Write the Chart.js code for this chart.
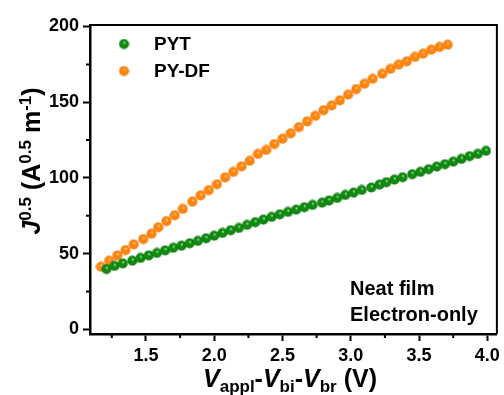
<!DOCTYPE html>
<html><head><meta charset="utf-8">
<script src="https://cdn.jsdelivr.net/npm/chart.js@4"></script>
<style>html,body{margin:0;padding:0;background:#fff}#wrap{width:504px;height:395px}</style>
</head><body><div id="wrap"><canvas id="c" width="504" height="395"></canvas></div>
<script>
const seriesNames = ['PYT', 'PY-DF'];
const pytV = [1.21,1.27,1.33,1.40,1.46,1.52,1.58,1.64,1.70,1.76,1.82,1.88,1.94,2.00,2.06,2.12,2.18,2.24,2.30,2.36,2.42,2.48,2.54,2.60,2.66,2.72,2.79,2.84,2.90,2.96,3.02,3.08,3.15,3.21,3.26,3.32,3.38,3.45,3.51,3.57,3.63,3.69,3.75,3.81,3.87,3.93,3.99];
const pytJ = [39.9,41.9,43.6,45.4,47.2,48.9,50.5,52.2,53.9,55.3,56.9,58.4,60.2,61.9,63.7,65.5,67.0,69.0,70.8,72.5,74.3,76.0,77.6,79.1,80.7,82.2,83.7,85.1,86.8,88.8,90.3,92.1,93.7,95.6,97.2,98.9,100.5,102.5,104.0,105.8,107.5,109.1,110.8,112.6,114.4,115.9,117.9];
const pydfV = [1.17,1.23,1.29,1.35,1.41,1.48,1.54,1.59,1.65,1.71,1.77,1.84,1.90,1.96,2.02,2.08,2.14,2.20,2.26,2.32,2.38,2.44,2.50,2.56,2.62,2.68,2.74,2.80,2.86,2.92,2.98,3.04,3.10,3.16,3.23,3.29,3.35,3.41,3.47,3.53,3.59,3.65,3.71];
const pydfJ = [41.4,45.4,48.9,52.4,56.2,59.7,63.2,67.5,71.6,75.4,79.6,84.4,88.5,92.0,95.9,100.4,104.0,107.7,111.3,115.9,118.5,122.4,125.9,129.5,133.6,137.3,141.0,144.8,147.9,151.2,155.0,158.7,162.2,165.5,168.8,172.0,174.8,177.0,179.9,182.1,184.7,186.5,188.0];
const xTicks = [1.5, 2.0, 2.5, 3.0, 3.5, 4.0];
const xMinorTicks = [1.25, 1.75, 2.25, 2.75, 3.25, 3.75];
const yTicks = [0, 50, 100, 150, 200];
const yMinorTicks = [25, 75, 125, 175];
const annotationLines = ['Neat film', 'Electron-only'];

const FONT = "'Liberation Sans', Arial, sans-serif";

function sphere(base, dark, light) {
  const s = 11, c = document.createElement('canvas');
  c.width = s; c.height = s;
  const g = c.getContext('2d');
  const grd = g.createRadialGradient(6.0, 4.0, 0.2, 5.5, 5.5, 5.2);
  grd.addColorStop(0, light);
  grd.addColorStop(0.3, base);
  grd.addColorStop(0.8, base);
  grd.addColorStop(1, dark);
  g.fillStyle = grd;
  g.beginPath(); g.arc(5.5, 5.5, 5.0, 0, Math.PI * 2); g.fill();
  return c;
}
const greenBall = sphere('#118a11', '#056205', '#a8eca0');
const orangeBall = sphere('#ff850d', '#e56a00', '#ffd8a8');

function toPts(xs, ys) { return xs.map((x, i) => ({ x: x, y: ys[i] })); }

function richText(ctx, segs, x, y, align) {
  let w = 0;
  segs.forEach(s => { ctx.font = s.font; w += ctx.measureText(s.t).width; });
  let cx = align === 'center' ? x - w / 2 : x;
  segs.forEach(s => {
    ctx.font = s.font;
    ctx.fillText(s.t, cx, y + (s.dy || 0));
    cx += ctx.measureText(s.t).width;
  });
}

const decor = {
  id: 'decor',
  afterDraw(chart) {
    const ctx = chart.ctx, a = chart.chartArea;
    const xs = chart.scales.x, ys = chart.scales.y;
    ctx.save();
    ctx.strokeStyle = '#000';
    ctx.lineWidth = 2;
    ctx.beginPath();
    ctx.moveTo(a.left, a.top); ctx.lineTo(a.right, a.top); ctx.lineTo(a.right, a.bottom);
    ctx.stroke();
    ctx.beginPath();
    xMinorTicks.forEach(v => { const p = xs.getPixelForValue(v); ctx.moveTo(p, a.bottom); ctx.lineTo(p, a.bottom + 4); });
    yMinorTicks.forEach(v => { const p = ys.getPixelForValue(v); ctx.moveTo(a.left, p); ctx.lineTo(a.left - 4, p); });
    ctx.stroke();
    ctx.fillStyle = '#000';
    const imgs = [greenBall, orangeBall];
    const ly = [44, 71];
    seriesNames.forEach((n, i) => {
      ctx.drawImage(imgs[i], 124 - 5.5, ly[i] - 5.5);
      ctx.font = 'bold 19px ' + FONT;
      ctx.textBaseline = 'middle';
      ctx.fillText(n, 154, ly[i] + 1);
    });
    ctx.textBaseline = 'alphabetic';
    ctx.font = 'bold 20px ' + FONT;
    ctx.fillText(annotationLines[0], 350, 295);
    ctx.fillText(annotationLines[1], 350, 321);
    const big = 'bold 25px ' + FONT, bigI = 'italic bold 25px ' + FONT, sub = 'bold 17px ' + FONT;
    richText(ctx, [
      { t: 'V', font: bigI }, { t: 'appl', font: sub, dy: 5 }, { t: '-', font: big },
      { t: 'V', font: bigI }, { t: 'bi', font: sub, dy: 5 }, { t: '-', font: big },
      { t: 'V', font: bigI }, { t: 'br', font: sub, dy: 5 }, { t: ' (V)', font: big }
    ], 290, 387, 'center');
    ctx.translate(40, 161);
    ctx.rotate(-Math.PI / 2);
    richText(ctx, [
      { t: 'J', font: bigI }, { t: '0.5', font: sub, dy: -9 }, { t: ' (A', font: big },
      { t: '0.5', font: sub, dy: -9 }, { t: ' m', font: big }, { t: '-1', font: sub, dy: -9 },
      { t: ')', font: big }
    ], 0, 0, 'center');
    ctx.restore();
  }
};

new Chart(document.getElementById('c'), {
  type: 'scatter',
  data: {
    datasets: [
      { label: seriesNames[0], data: toPts(pytV, pytJ), pointStyle: greenBall, pointRadius: 5, pointHoverRadius: 5 },
      { label: seriesNames[1], data: toPts(pydfV, pydfJ), pointStyle: orangeBall, pointRadius: 5, pointHoverRadius: 5 }
    ]
  },
  options: {
    responsive: false,
    devicePixelRatio: 1,
    animation: false,
    events: [],
    layout: { padding: { top: 25, right: 7, left: 0, bottom: 0 } },
    plugins: { legend: { display: false }, tooltip: { enabled: false } },
    scales: {
      x: {
        type: 'linear', min: 1.09, max: 4.07,
        afterBuildTicks: s => { s.ticks = xTicks.map(v => ({ value: v })); },
        afterFit: s => { s.height = 61; },
        ticks: { color: '#000', font: { family: FONT, size: 18, weight: 'bold' }, padding: 4, callback: v => Number(v).toFixed(1), maxRotation: 0 },
        grid: { drawOnChartArea: false, drawTicks: true, tickLength: 7, tickWidth: 2, tickColor: '#000' },
        border: { color: '#000', width: 2.5 }
      },
      y: {
        type: 'linear', min: -3, max: 201,
        afterBuildTicks: s => { s.ticks = yTicks.map(v => ({ value: v })); },
        afterFit: s => { s.width = 90; },
        ticks: { color: '#000', font: { family: FONT, size: 18, weight: 'bold' }, padding: 4, callback: v => String(v) },
        grid: { drawOnChartArea: false, drawTicks: true, tickLength: 7, tickWidth: 2, tickColor: '#000' },
        border: { color: '#000', width: 2.5 }
      }
    }
  },
  plugins: [decor]
});
</script>
</body></html>
